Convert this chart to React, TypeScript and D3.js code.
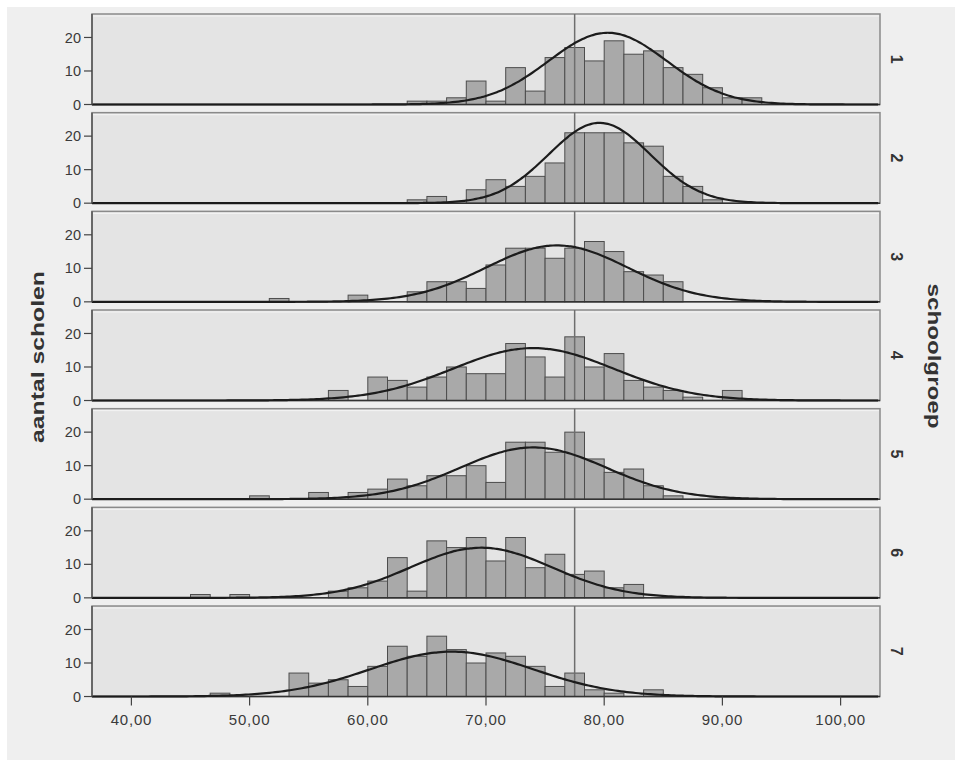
import React from 'react';
import * as d3 from 'd3';

// histogram bins: width 5/3, first bin starts at 36.67 (40 bins up to 103.33)
const binWidth = 5 / 3;
const firstEdge = 40 - 2 * binWidth;
const groups = ['1', '2', '3', '4', '5', '6', '7'];

const counts1 = [0,0,0,0,0,0,0,0,0,0, 0,0,0,0,0,0,1,1,2,7, 1,11,4,14,17,13,19,15,16,11, 9,5,2,2,0,0,0,0,0,0];
const counts2 = [0,0,0,0,0,0,0,0,0,0, 0,0,0,0,0,0,1,2,0,4, 7,5,8,12,21,21,21,18,17,8, 5,1,0,0,0,0,0,0,0,0];
const counts3 = [0,0,0,0,0,0,0,0,0,1, 0,0,0,2,0,0,3,6,6,4, 11,16,16,13,16,18,15,9,8,6, 0,0,0,0,0,0,0,0,0,0];
const counts4 = [0,0,0,0,0,0,0,0,0,0, 0,0,3,0,7,6,4,7,10,8, 8,17,13,7,19,10,14,6,4,3, 1,0,3,0,0,0,0,0,0,0];
const counts5 = [0,0,0,0,0,0,0,0,1,0, 0,2,0,2,3,6,4,7,7,10, 5,17,17,14,20,12,8,9,4,1, 0,0,0,0,0,0,0,0,0,0];
const counts6 = [0,0,0,0,0,1,0,1,0,0, 0,0,2,3,5,12,2,17,15,18, 11,18,9,13,7,8,3,4,0,0, 0,0,0,0,0,0,0,0,0,0];
const counts7 = [0,0,0,0,0,0,1,0,0,0, 7,4,5,3,9,15,12,18,14,10, 13,12,9,3,7,2,1,0,2,0, 0,0,0,0,0,0,0,0,0,0];
const allCounts = [counts1, counts2, counts3, counts4, counts5, counts6, counts7];

// normal curve per group
const means = [80.3, 79.6, 76.0, 74.0, 74.0, 69.6, 67.1];
const sds = [5.0, 4.3, 6.0, 6.8, 6.2, 6.0, 6.9];
const curveN = [161, 155, 152, 160, 144, 135, 139];

const refValue = 77.5;
const xTicks = [40, 50, 60, 70, 80, 90, 100];
const yTicks = [0, 10, 20];

const W = 963, H = 767;
const left = 92, right = 880;
const firstTop = 14, pitch = 98.67, panelH = 90.5;

export default function App() {
  const x = d3.scaleLinear().domain([firstEdge, firstEdge + 40 * binWidth]).range([left, right]);
  const y = d3.scaleLinear().domain([0, 27]).range([panelH, 0]);
  const fmt = (v: number) => v.toFixed(2).replace('.', ',');
  const xs = d3.range(firstEdge, firstEdge + 40 * binWidth + 0.01, 0.25);
  const lastBottom = firstTop + 6 * pitch + panelH;

  return (
    <svg width={W} height={H} style={{ position: 'absolute', left: 0, top: 0 }}
      fontFamily="'Liberation Sans', Arial, sans-serif">
      <rect x={0} y={0} width={W} height={H} fill="#ffffff" />
      <rect x={7} y={7} width={948} height={753} fill="#efefef" />
      {groups.map((g, i) => {
        const top = firstTop + i * pitch;
        const counts = allCounts[i];
        const line = d3.line<number>()
          .x(v => x(v))
          .y(v => y(curveN[i] * binWidth * (Math.exp(-((v - means[i]) ** 2) / (2 * sds[i] ** 2)) / (sds[i] * Math.sqrt(2 * Math.PI)))))
          .curve(d3.curveBasis);
        return (
          <g key={g} transform={`translate(0,${top})`}>
            <rect x={left} y={0} width={right - left} height={panelH} fill="#e4e4e4" stroke="#8a8a8a" strokeWidth={1.5} />
            <line x1={left + 1} x2={right - 1} y1={2} y2={2} stroke="#f4f4f4" strokeWidth={1} />
            {counts.map((c, k) => c > 0 ? (
              <rect key={k} x={x(firstEdge + k * binWidth)} y={y(c)}
                width={x(firstEdge + (k + 1) * binWidth) - x(firstEdge + k * binWidth)}
                height={y(0) - y(c)} fill="#a9a9a9" stroke="#4d4d4d" strokeWidth={1} />
            ) : null)}
            <line x1={x(refValue)} x2={x(refValue)} y1={0} y2={panelH} stroke="#6e6e6e" strokeWidth={1.5} />
            <line x1={left} x2={right} y1={panelH} y2={panelH} stroke="#333" strokeWidth={1.5} />
            <path d={line(xs) || ''} fill="none" stroke="#1c1c1c" strokeWidth={2.2} />
            <line x1={left} x2={left} y1={0} y2={panelH} stroke="#555" strokeWidth={1.5} />
            {yTicks.map(t => (
              <g key={t}>
                <line x1={84} x2={left} y1={y(t)} y2={y(t)} stroke="#444" strokeWidth={1.2} />
                <text x={81} y={y(t)} dy="0.35em" textAnchor="end" fontSize={14.5} fill="#3a3a3a">{t}</text>
              </g>
            ))}
            <text transform={`translate(${897},${panelH / 2}) rotate(90)`} textAnchor="middle" dy="0.35em"
              fontSize={16} fontWeight="bold" fill="#333">{g}</text>
          </g>
        );
      })}
      {xTicks.map(t => (
        <g key={t}>
          <line x1={x(t)} x2={x(t)} y1={lastBottom} y2={lastBottom + 9} stroke="#444" strokeWidth={1.2} />
          <text x={x(t)} y={lastBottom + 23} dy="0.35em" textAnchor="middle" fontSize={15}
            letterSpacing={0.8} fill="#3a3a3a">{fmt(t)}</text>
        </g>
      ))}
      <text transform="translate(38,357) rotate(-90)" textAnchor="middle" dy="0.35em" fontSize={18}
        fontWeight="bold" fill="#333" textLength={172} lengthAdjust="spacingAndGlyphs">aantal scholen</text>
      <text transform="translate(935,356) rotate(90)" textAnchor="middle" dy="0.35em" fontSize={19}
        fontWeight="bold" fill="#333" textLength={145} lengthAdjust="spacingAndGlyphs">schoolgroep</text>
    </svg>
  );
}
